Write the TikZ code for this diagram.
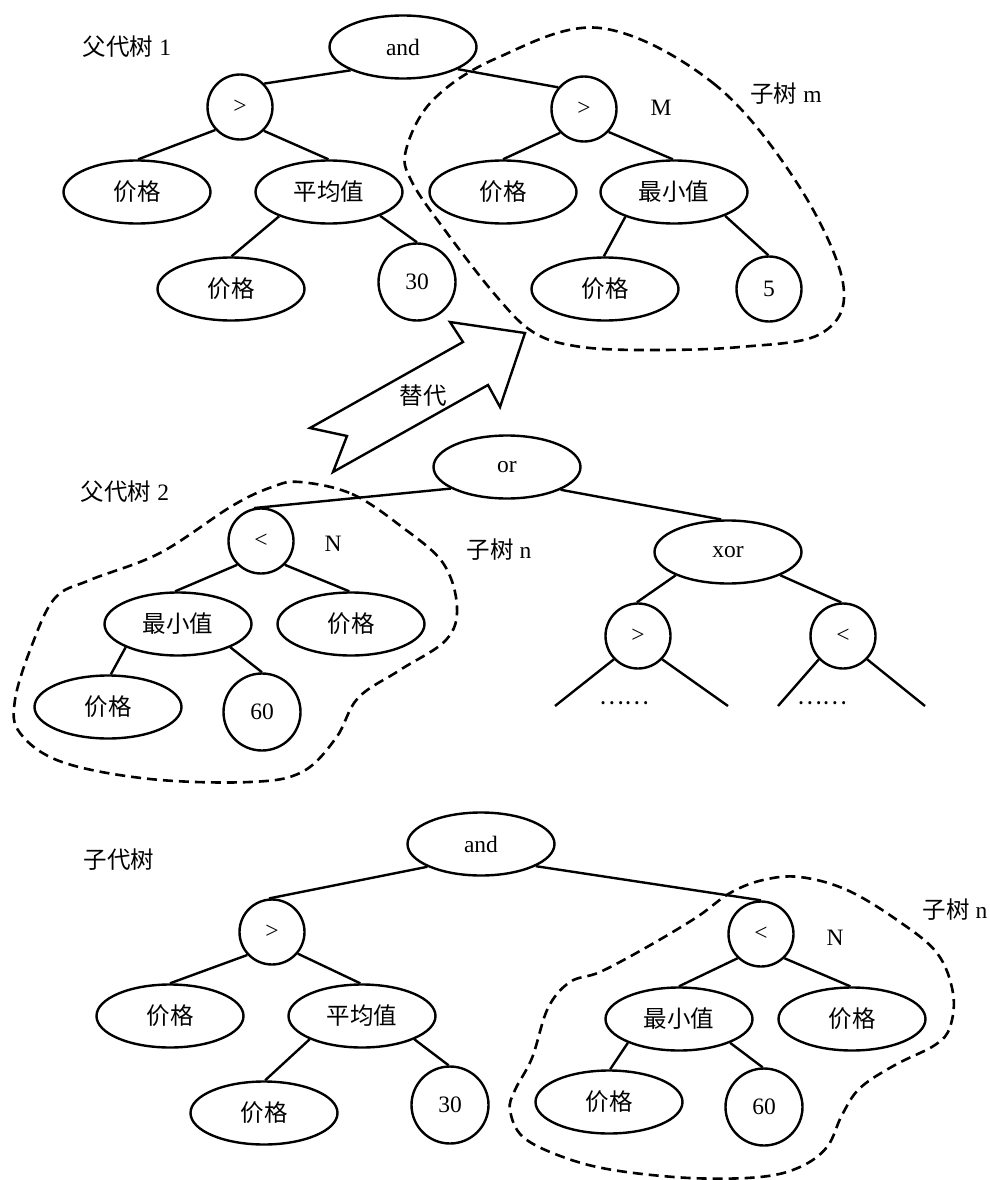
\documentclass[tikz,border=0pt]{standalone}
\usepackage{fontspec}
\setmainfont{Liberation Serif}
\newfontfamily\cjk{Noto Sans CJK SC}
\usetikzlibrary{shapes.geometric}
\newcommand\myfs{\fontsize{23.5pt}{27pt}\selectfont}
\newcommand\zh[1]{{\cjk #1}}
\tikzset{
  nodebase/.style={draw, line width=2.4pt, inner sep=0pt, font=\myfs},
  ell/.style={nodebase, ellipse, minimum width=147pt, minimum height=63pt},
  opc/.style={nodebase, circle, minimum size=65pt},
  numc/.style={nodebase, circle, minimum size=77pt},
  link/.style={line width=2.4pt},
  blob/.style={line width=2.6pt, dash pattern=on 10pt off 6pt},
  lbl/.style={font=\myfs, inner sep=0pt},
  arrowshape/.style={line width=2.4pt, line join=miter}
}
\begin{document}
\begin{tikzpicture}[x=1pt, y=-1pt]
\useasboundingbox (0,0) rectangle (989,1180);

% ---------- tree 1 ----------
\node[lbl] (t1) at (127,47) {\zh{父代树} 1};
\node[ell] (and1) at (403,47) {and};
\node[opc] (gt1) at (240,107) {>};
\node[ell] (p1a) at (137,192) {\zh{价格}};
\node[ell] (avg1) at (329,192) {\zh{平均值}};
\node[ell] (p1b) at (231,289) {\zh{价格}};
\node[numc] (n30a) at (417,282) {30};
\node[opc] (gt1r) at (584,109) {>};
\node[ell] (p1c) at (503,192) {\zh{价格}};
\node[ell] (min1) at (674,192) {\zh{最小值}};
\node[ell] (p1d) at (605,289) {\zh{价格}};
\node[opc] (n5) at (769,289) {5};
\node[lbl] (M) at (661,108) {M};
\node[lbl] (sm) at (786,94) {\zh{子树} m};

\draw[link] (and1.204) -- (gt1.44);
\draw[link] (and1.338) -- (gt1r.140);
\draw[link] (gt1.223) -- (p1a.88);
\draw[link] (gt1.315) -- (avg1.91);
\draw[link] (avg1.206) -- (p1b.89);
\draw[link] (avg1.335) -- (n30a.90);
\draw[link] (gt1r.225) -- (p1c.90);
\draw[link] (gt1r.317) -- (min1.92);
\draw[link] (min1.207) -- (p1d.92);
\draw[link] (min1.335) -- (n5.91);

\draw[blob] plot[smooth cycle, tension=0.6] coordinates {
  (600,28) (713,83) (797,183) (843,283) (822,333) (740,347) (640,350)
  (575,346) (533,332) (497,297) (447,233) (412,182) (406,150) (433,100) (497,58)};

% ---------- replace arrow ----------
\draw[arrowshape] (525,333) -- (500,407) -- (488,385) -- (333,472) -- (347,436)
  -- (310,428) -- (463,342) -- (450,322) -- cycle;
\node[lbl] (rep) at (423,396) {\zh{替代}};

% ---------- tree 2 ----------
\node[lbl] (t2) at (125,492) {\zh{父代树} 2};
\node[ell] (or2) at (507,467) {or};
\node[opc] (lt2) at (261,541) {<};
\node[ell] (min2) at (178,624) {\zh{最小值}};
\node[ell] (p2a) at (351,624) {\zh{价格}};
\node[ell] (p2b) at (108,707) {\zh{价格}};
\node[numc] (n60a) at (262,712) {60};
\node[lbl] (N2) at (333,544) {N};
\node[lbl] (sn2) at (499,550) {\zh{子树} n};
\node[ell] (xor2) at (728,552) {xor};
\node[opc] (gt2) at (638,636) {>};
\node[opc] (lt2b) at (843,636) {<};
\node[lbl] (d1) at (624,703) {\zh{……}};
\node[lbl] (d2) at (822,703) {\zh{……}};
\coordinate (e1) at (555,706);
\coordinate (e2) at (728,706);
\coordinate (e3) at (778,706);
\coordinate (e4) at (925,706);

\draw[link] (or2.201) -- (lt2.102);
\draw[link] (or2.337) -- (xor2.102);
\draw[link] (lt2.225) -- (min2.95);
\draw[link] (lt2.315) -- (p2a.93);
\draw[link] (min2.204) -- (p2b.85);
\draw[link] (min2.336) -- (n60a.90);
\draw[link] (xor2.204) -- (gt2.92);
\draw[link] (xor2.336) -- (lt2b.93);
\draw[link] (gt2.224) -- (e1);
\draw[link] (gt2.316) -- (e2);
\draw[link] (lt2b.224) -- (e3);
\draw[link] (lt2b.316) -- (e4);

\draw[blob] plot[smooth cycle, tension=0.6] coordinates {
  (300,482) (352,494) (402,527) (443,563) (457,607) (446,640) (400,670)
  (358,698) (336,738) (302,772) (250,782) (150,779) (62,762) (20,733)
  (15,700) (32,645) (55,598) (90,580) (160,553) (232,506) (272,487)};

% ---------- tree 3 ----------
\node[lbl] (t3) at (119,860) {\zh{子代树}};
\node[ell] (and3) at (481,844) {and};
\node[opc] (gt3) at (272,932) {>};
\node[ell] (p3a) at (170,1016) {\zh{价格}};
\node[ell] (avg3) at (362,1016) {\zh{平均值}};
\node[ell] (p3b) at (264,1113) {\zh{价格}};
\node[numc] (n30b) at (450,1105) {30};
\node[opc] (lt3) at (761,934) {<};
\node[ell] (min3) at (679,1019) {\zh{最小值}};
\node[ell] (p3c) at (852,1019) {\zh{价格}};
\node[ell] (p3d) at (609,1102) {\zh{价格}};
\node[numc] (n60b) at (764,1107) {60};
\node[lbl] (N3) at (835,938) {N};
\node[lbl] (sn3) at (955,910) {\zh{子树} n};

\draw[link] (and3.203) -- (gt3.95);
\draw[link] (and3.338) -- (lt3.90);
\draw[link] (gt3.223) -- (p3a.90);
\draw[link] (gt3.320) -- (avg3.93);
\draw[link] (avg3.204) -- (p3b.88);
\draw[link] (avg3.336) -- (n30b.92);
\draw[link] (lt3.226) -- (min3.90);
\draw[link] (lt3.314) -- (p3c.93);
\draw[link] (min3.205) -- (p3d.88);
\draw[link] (min3.335) -- (n60b.92);

\draw[blob] plot[smooth cycle, tension=0.6] coordinates {
  (800,877) (847,890) (897,920) (937,953) (953,993) (950,1027) (935,1045)
  (895,1065) (860,1088) (842,1115) (827,1147) (800,1167) (760,1177)
  (690,1178) (613,1170) (563,1157) (523,1137) (510,1110) (515,1090)
  (532,1058) (548,1008) (570,982) (600,972) (647,947) (697,917)
  (730,893) (763,880)};
\end{tikzpicture}
\end{document}
